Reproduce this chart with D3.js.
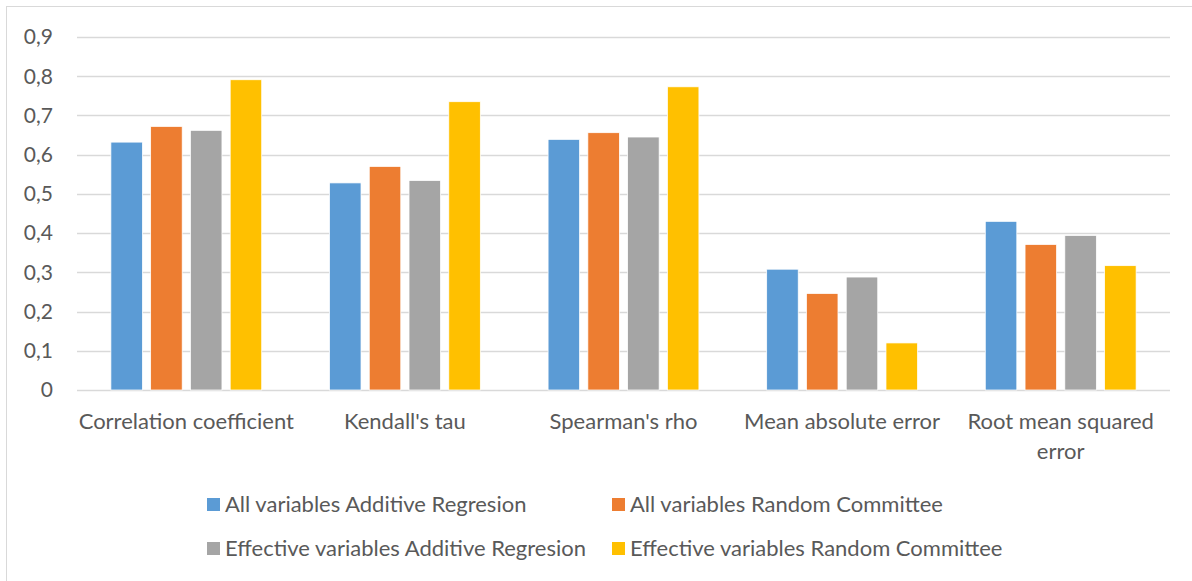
<!DOCTYPE html>
<html>
<head>
<meta charset="utf-8">
<script src="https://cdn.jsdelivr.net/npm/d3@7"></script>
<style>
  body { margin: 0; background: #fff; }
  text { font-family: Lato, "Open Sans", sans-serif; fill: #595959; }
</style>
</head>
<body>
<div id="chart"></div>
<script>
// categories and series
var categories = ["Correlation coefficient", "Kendall's tau", "Spearman's rho", "Mean absolute error", "Root mean squared error"];
var seriesNames = ["All variables Additive Regresion", "All variables Random Committee",
                   "Effective variables Additive Regresion", "Effective variables Random Committee"];
var seriesColors = ["#5b9bd5", "#ed7d31", "#a5a5a5", "#ffc000"];

var allAdditive      = [0.632, 0.528, 0.639, 0.308, 0.430];
var allCommittee     = [0.672, 0.570, 0.656, 0.246, 0.371];
var effAdditive      = [0.662, 0.534, 0.645, 0.288, 0.394];
var effCommittee     = [0.791, 0.735, 0.773, 0.120, 0.317];
var seriesValues = [allAdditive, allCommittee, effAdditive, effCommittee];

var yTicks = [0, 0.1, 0.2, 0.3, 0.4, 0.5, 0.6, 0.7, 0.8, 0.9];

var W = 1192, H = 581;
var margin = {top: 37, left: 77, right: 22, bottom: 191};
var width = W - margin.left - margin.right,
    height = H - margin.top - margin.bottom;

var svg = d3.select("#chart").append("svg")
    .attr("width", W)
    .attr("height", H);

// chart area border (only top/left visible)
svg.append("rect")
    .attr("x", 6.5).attr("y", 6.5)
    .attr("width", W + 20).attr("height", H + 20)
    .attr("fill", "none")
    .attr("stroke", "#d9d9d9");

var g = svg.append("g")
    .attr("transform", "translate(" + margin.left + "," + margin.top + ")");

var x0 = d3.scaleBand().domain(categories).range([0, width]).paddingInner(0).paddingOuter(0);
var groupPad = 0.155;
var x1 = d3.scaleBand().domain(d3.range(seriesNames.length))
    .range([x0.bandwidth() * groupPad, x0.bandwidth() * (1 - groupPad)])
    .paddingInner(0.207).paddingOuter(0);

var y = d3.scaleLinear().domain([0, 0.9]).range([height, 0]);

// gridlines
g.selectAll(".grid")
    .data(yTicks)
    .enter().append("line")
    .attr("class", "grid")
    .attr("x1", 0).attr("x2", width)
    .attr("y1", function(d) { return Math.round(y(d)) + 0.5; })
    .attr("y2", function(d) { return Math.round(y(d)) + 0.5; })
    .attr("stroke", "#d9d9d9")
    .attr("stroke-width", 1.3);

// y axis labels
var fmt = function(d) { return d3.format(".1f")(d).replace(".", ","); };
g.selectAll(".ylab")
    .data(yTicks)
    .enter().append("text")
    .attr("class", "ylab")
    .attr("x", -24)
    .attr("y", function(d) { return y(d); })
    .attr("dy", "0.35em")
    .attr("text-anchor", "end")
    .style("font-size", "21px")
    .text(function(d) { return d === 0 ? "0" : fmt(d); });

// bars
var groups = g.selectAll(".cat")
    .data(categories)
    .enter().append("g")
    .attr("class", "cat")
    .attr("transform", function(d) { return "translate(" + x0(d) + ",0)"; });

groups.selectAll("rect")
    .data(function(c, ci) {
        return seriesValues.map(function(vals, si) { return {s: si, v: vals[ci]}; });
    })
    .enter().append("rect")
    .attr("x", function(d) { return x1(d.s); })
    .attr("width", x1.bandwidth())
    .attr("y", function(d) { return y(d.v); })
    .attr("height", function(d) { return height - y(d.v); })
    .attr("fill", function(d) { return seriesColors[d.s]; })
    .attr("stroke", "#fff")
    .attr("stroke-width", 0.75);

// category labels with wrapping
var catLabels = g.selectAll(".xlab")
    .data(categories)
    .enter().append("text")
    .attr("class", "xlab")
    .attr("text-anchor", "middle")
    .style("font-size", "22px")
    .attr("transform", function(d) { return "translate(" + (x0(d) + x0.bandwidth() / 2) + "," + (height + 39) + ")"; });

catLabels.each(function(d) {
    var t = d3.select(this);
    var words = d.split(" "), line = [];
    var tspan = t.append("tspan").attr("x", 0).attr("dy", 0);
    words.forEach(function(w) {
        line.push(w);
        tspan.text(line.join(" "));
        if (tspan.node().getComputedTextLength() > x0.bandwidth() - 2 && line.length > 1) {
            line.pop();
            tspan.text(line.join(" "));
            line = [w];
            tspan = t.append("tspan").attr("x", 0).attr("dy", "30px").text(w);
        }
    });
});

// legend
var legendPos = [[207, 504], [612, 504], [207, 548], [612, 548]];
var legend = svg.selectAll(".legend")
    .data(seriesNames)
    .enter().append("g")
    .attr("class", "legend")
    .attr("transform", function(d, i) { return "translate(" + legendPos[i][0] + "," + legendPos[i][1] + ")"; });

legend.append("rect")
    .attr("x", 0).attr("y", -6)
    .attr("width", 13).attr("height", 13)
    .attr("fill", function(d, i) { return seriesColors[i]; });

legend.append("text")
    .attr("x", 18)
    .attr("y", 0)
    .attr("dy", "0.35em")
    .style("font-size", "22px")
    .text(function(d) { return d; });
</script>
</body>
</html>
